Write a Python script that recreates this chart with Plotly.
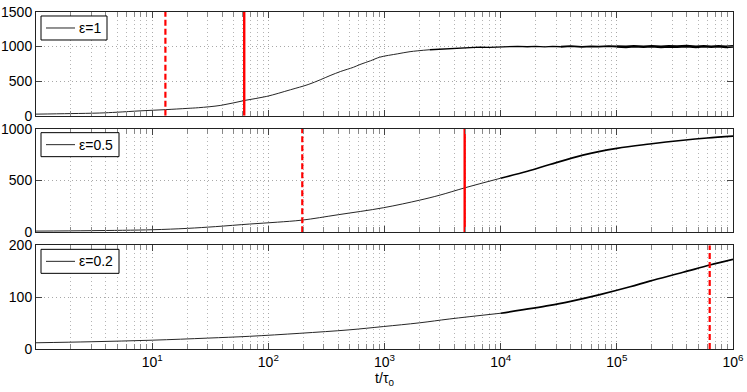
import plotly.graph_objects as go
from plotly.subplots import make_subplots

# ---- data ----
# eps = 1 : smooth rise, then a noisy plateau near 1000
t_e1 = [1, 2, 3.5, 5, 8, 13, 20, 25, 39, 63, 97, 155, 220, 280, 340, 420, 540, 615,
        760, 910, 1300, 1660, 2450]
n_e1 = [22, 30, 38, 50, 70, 87, 105, 115, 149, 221, 279, 375, 450, 519, 580, 640, 700, 740,
        795, 846, 895, 926, 954]
t_e1_mid = [2450, 3000, 3500, 4000, 4700, 5500, 6600, 8000, 10000, 12000, 14000, 17000,
            20000, 24000, 28000, 33000]
n_e1_mid = [954, 962, 972, 970, 979, 984, 992, 989, 997, 993, 1002, 997,
            1004, 995, 1003, 997]
t_e1_late = [33000, 40000, 50000, 60000, 70000, 85000, 100000]
n_e1_late = [997, 1006, 996, 1004, 999, 1007, 1001]
t_e1_tail = [100000, 120000, 140000, 170000, 200000, 240000, 280000, 330000, 400000,
             480000, 560000, 650000, 750000, 870000, 1000000]
n_e1_tail = [1001, 996, 1005, 998, 1004, 995, 1003, 999, 1006,
             995, 1004, 997, 1005, 996, 1002]

# eps = 0.5
t_e05 = [1, 3, 10, 20, 35, 69, 120, 196, 400, 976, 2000, 3000, 4900, 10000]
n_e05 = [12, 16, 25, 38, 55, 80, 98, 118, 170, 237, 310, 359, 429, 522]
t_e05_tail = [10000, 17000, 26500, 51000, 100000, 192000, 372000, 600000, 1000000]
n_e05_tail = [522, 589, 654, 745, 810, 852, 888, 910, 929]

# eps = 0.2
t_e02 = [1, 3, 10, 30, 69, 187, 500, 976, 2000, 3650, 10000]
n_e02 = [12, 14, 17, 21, 24.5, 30.3, 37, 43.3, 50.5, 58, 69]
t_e02_tail = [10000, 26500, 40000, 71500, 130000, 192000, 372000, 630000, 1000000]
n_e02_tail = [69, 84, 92, 105, 120, 131, 148, 162, 173]

# red marker times (solid / dashed) per panel
solid_t = [62, 4900, None]
dashed_t = [13, 196, 630000]

labels = ["ε=1", "ε=0.5", "ε=0.2"]
y_max = [1500, 1000, 200]
y_ticks = [[0, 500, 1000, 1500], [0, 500, 1000], [0, 100, 200]]

major_x = [10, 100, 1000, 10000, 100000, 1000000]
major_txt = ["10<sup>%d</sup>" % k for k in range(1, 7)]
minor_x = [m * 10 ** k for k in range(0, 6) for m in range(2, 10)]

FONT = "Liberation Sans, Arial, sans-serif"

# plot box in pixels: 697 wide, three panels ~104 px high
PW, PH = 697.0, 103.7

fig = make_subplots(rows=3, cols=1, shared_xaxes=True, vertical_spacing=0.0386)

# (x, y, width, shape) pieces for each panel; the line gets heavier to the right
pieces = [
    [(t_e1, n_e1, 1, "spline"), (t_e1_mid, n_e1_mid, 1.3, "linear"),
     (t_e1_late, n_e1_late, 1.8, "linear"), (t_e1_tail, n_e1_tail, 2.6, "linear")],
    [(t_e05, n_e05, 1, "spline"), (t_e05_tail, n_e05_tail, 1.7, "spline")],
    [(t_e02, n_e02, 1, "spline"), (t_e02_tail, n_e02_tail, 1.7, "spline")],
]
legend_w = [66, 78, 78]

for i, parts in enumerate(pieces):
    row = i + 1
    for j, (t, n, w, shp) in enumerate(parts):
        fig.add_trace(go.Scatter(x=t, y=n, mode="lines", name=labels[i],
                                 line=dict(color="#262626" if j == 0 else "black",
                                           width=w, shape=shp),
                                 showlegend=False),
                      row=row, col=1)
    if dashed_t[i] is not None:
        fig.add_trace(go.Scatter(x=[dashed_t[i], dashed_t[i]], y=[0, y_max[i]],
                                 mode="lines", showlegend=False,
                                 line=dict(color="#ff0000", width=2.2, dash="6px,3px")),
                      row=row, col=1)
    if solid_t[i] is not None:
        fig.add_trace(go.Scatter(x=[solid_t[i], solid_t[i]], y=[0, y_max[i]],
                                 mode="lines", showlegend=False,
                                 line=dict(color="#ff0000", width=2.4)),
                      row=row, col=1)
    fig.update_yaxes(range=[0, y_max[i]], tickvals=y_ticks[i], row=row, col=1)

    # MATLAB-style legend box in the upper-left corner of each panel
    fig.add_shape(type="rect", xref="x domain", yref="y domain",
                  x0=5 / PW, x1=(5 + legend_w[i]) / PW,
                  y0=1 - 28 / PH, y1=1 - 4 / PH,
                  fillcolor="white", line=dict(color="black", width=1),
                  row=row, col=1)
    fig.add_shape(type="line", xref="x domain", yref="y domain",
                  x0=10 / PW, x1=39 / PW, y0=1 - 16 / PH, y1=1 - 16 / PH,
                  line=dict(color="#262626", width=1), row=row, col=1)
    fig.add_annotation(text=labels[i], xref="x domain", yref="y domain",
                       x=41 / PW, y=1 - 16 / PH, xanchor="left", yanchor="middle",
                       showarrow=False, font=dict(size=14, family=FONT, color="black"),
                       row=row, col=1)

fig.update_xaxes(type="log", range=[0, 6], tickvals=major_x, ticktext=major_txt,
                 ticks="inside", ticklen=6, tickcolor="#444444", automargin=False,
                 showline=True, linecolor="#222222", linewidth=1, mirror="ticks",
                 showgrid=True, gridcolor="#a8a8a8", griddash="1px,3px", gridwidth=1,
                 minor=dict(tickvals=minor_x, ticks="inside", ticklen=5,
                            tickcolor="#888888", showgrid=True,
                            gridcolor="#b4b4b4", griddash="1px,3px"),
                 tickfont=dict(size=14, family=FONT, color="black"),
                 zeroline=False)
fig.update_xaxes(title=dict(text="t/τ<sub>0</sub>", standoff=0,
                            font=dict(size=14, family=FONT, color="black")),
                 row=3, col=1)
fig.update_yaxes(ticks="inside", ticklen=6, tickcolor="#444444", automargin=False,
                 showline=True, linecolor="#222222", linewidth=1, mirror="ticks",
                 showgrid=True, gridcolor="#a8a8a8", griddash="1px,3px", gridwidth=1,
                 zeroline=False,
                 tickfont=dict(size=14, family=FONT, color="black"))

fig.update_layout(
    width=747, height=392,
    margin=dict(l=36, r=14, t=12, b=43),
    plot_bgcolor="white", paper_bgcolor="white",
    showlegend=False,
    font=dict(family=FONT, color="black"),
)

# drop the browser's default 8px body margin so the figure sits at the window's corner
fig.write_html("out.html", config={"displayModeBar": False},
               post_script="document.body.style.margin = '0';")
